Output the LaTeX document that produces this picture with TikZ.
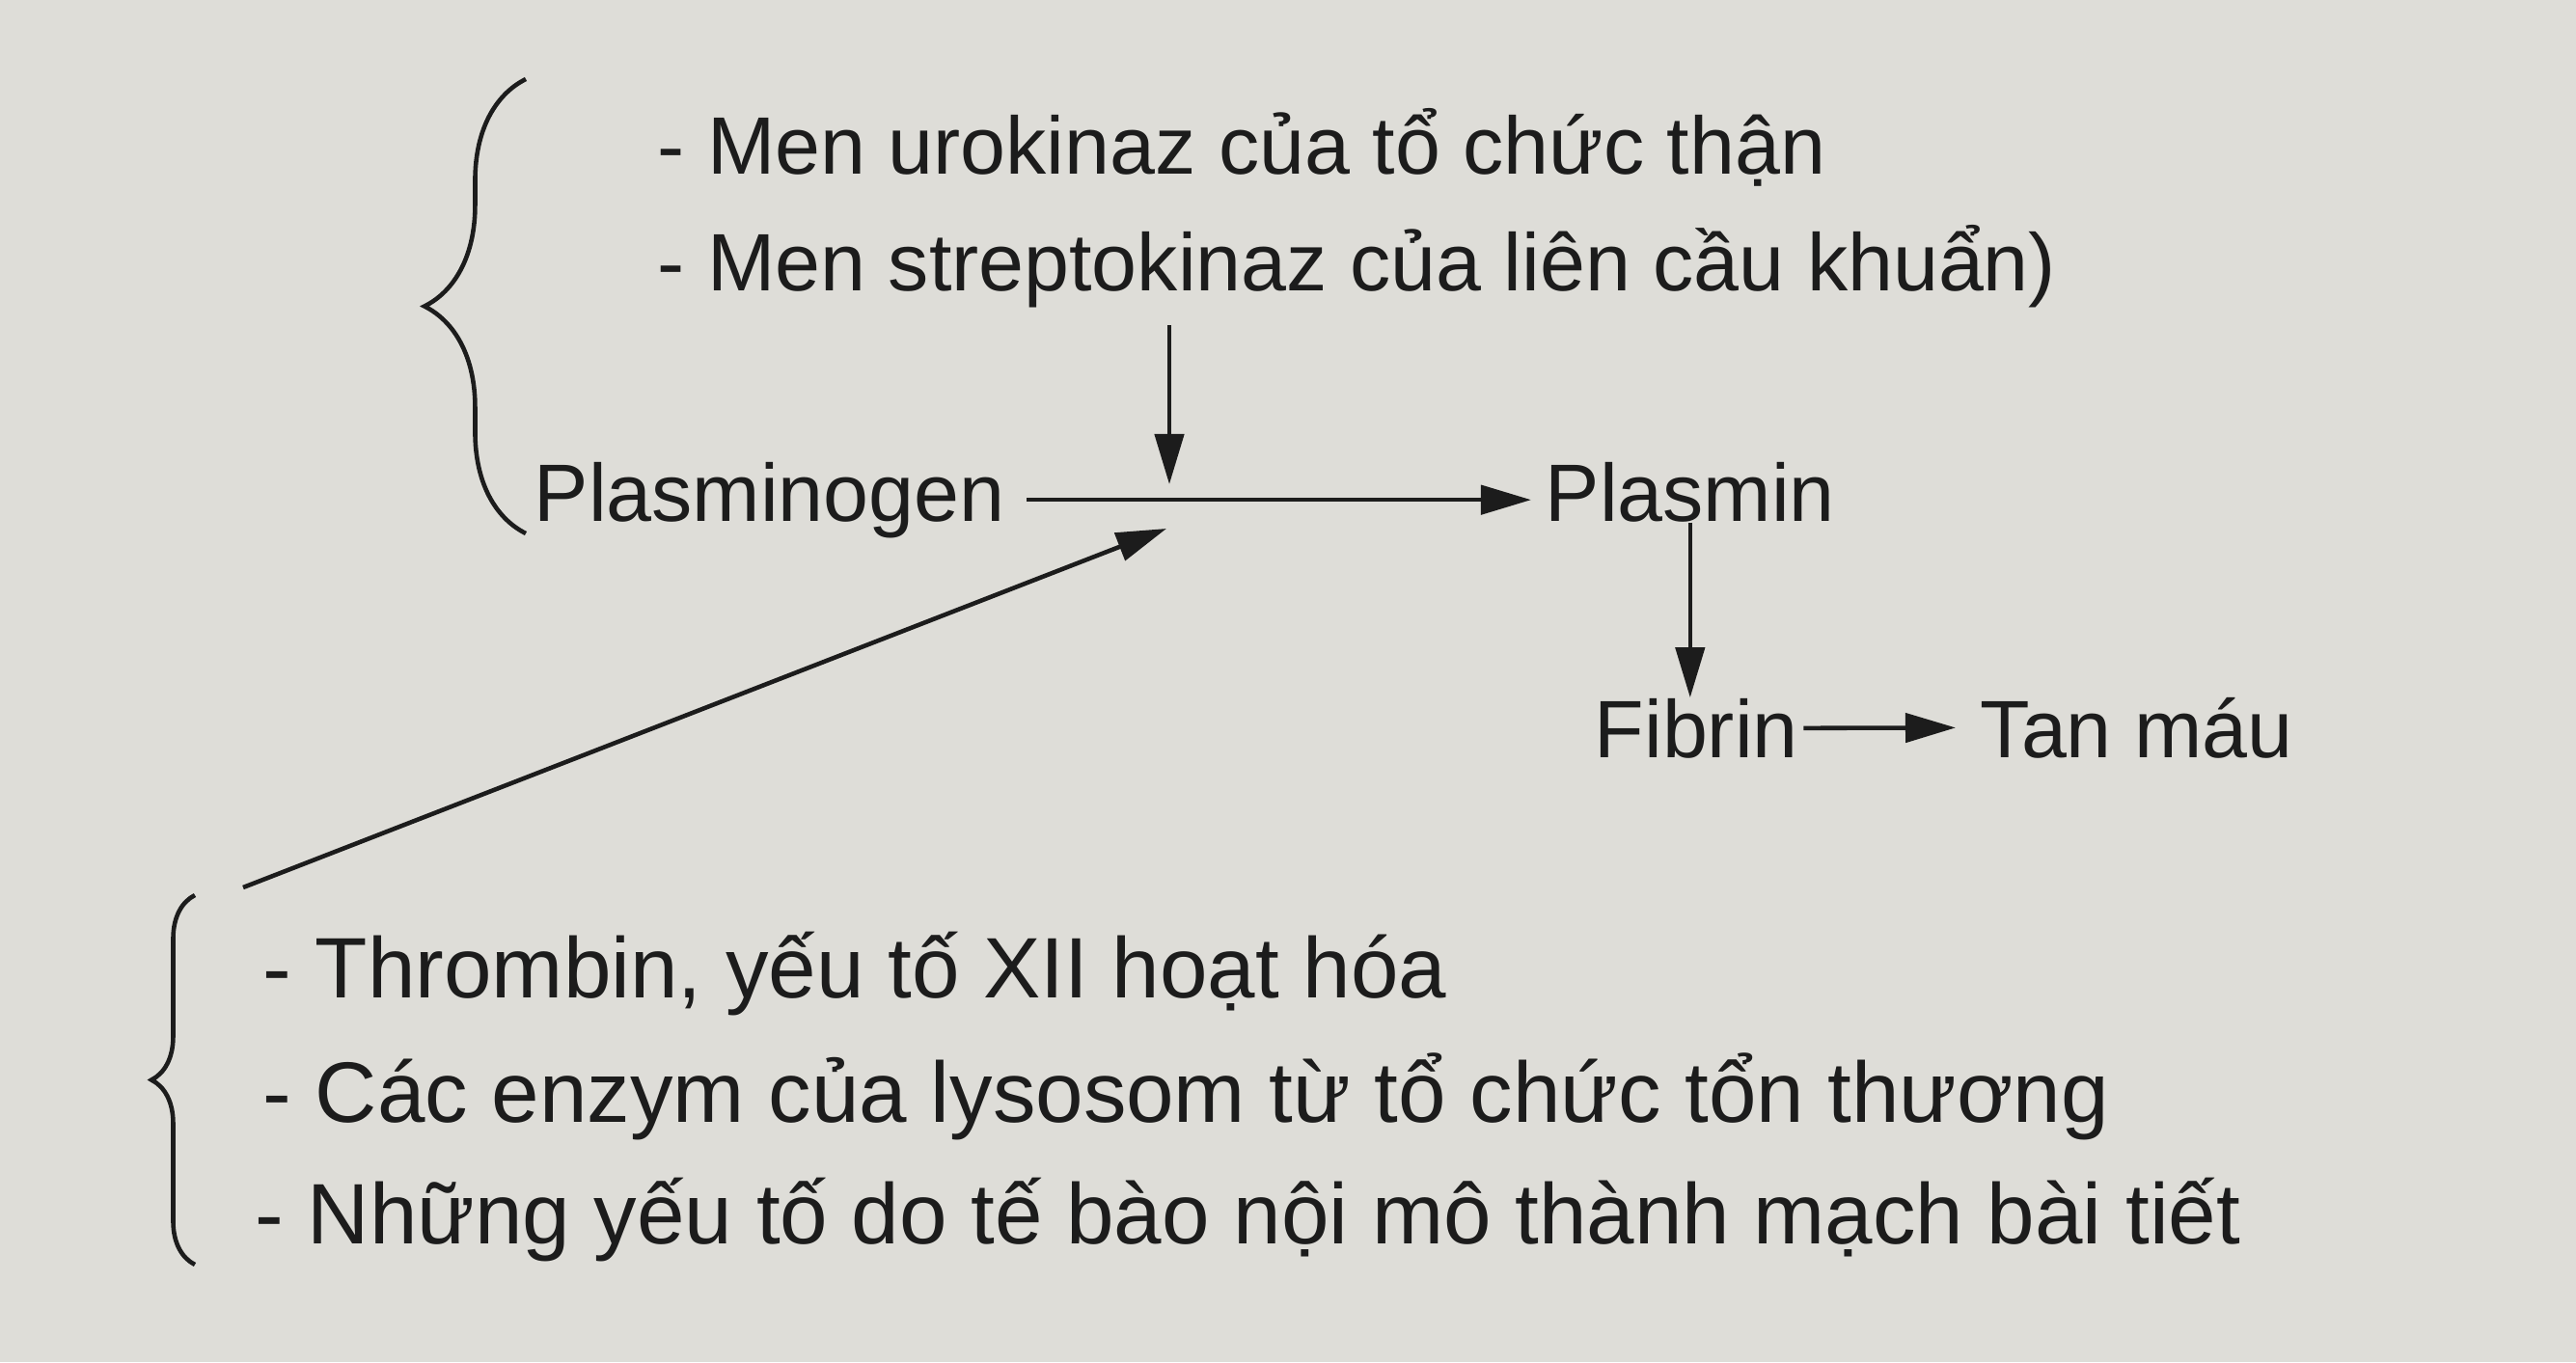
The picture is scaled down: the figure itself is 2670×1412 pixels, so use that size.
\documentclass[tikz,border=0pt]{standalone}
\usepackage{fontspec}
\setmainfont{Liberation Sans}
\usetikzlibrary{arrows.meta,decorations.pathreplacing}
\definecolor{paper}{RGB}{222,221,216}
\definecolor{ink}{RGB}{28,28,28}

\begin{document}
\begin{tikzpicture}[
    x=0.01cm, y=-0.01cm,
    txt/.style={
        anchor=base west,
        inner sep=0pt,
        font=\fontsize{24}{28}\selectfont,
        text=ink
    },
    txtbig/.style={
        txt,
        font=\fontsize{25.3}{30}\selectfont
    },
    arr/.style={
        -{Triangle[length=0.52cm,width=0.3cm]},
        line width=1.3pt,
        draw=ink
    },
    curly/.style={
        decorate,
        decoration={brace, amplitude=#1},
        line width=1.3pt,
        draw=ink
    }
]

\fill[paper] (0,0) rectangle (2670,1412);

\node[txt] (uro) at (681,180) {- Men urokinaz của tổ chức thận};
\node[txt] (strep) at (681,301) {- Men streptokinaz của liên cầu khuẩn)};
\node[txt] (pgen) at (553,540) {Plasminogen};
\node[txt] (plasmin) at (1601,540) {Plasmin};
\node[txt] (fibrin) at (1652,785) {Fibrin};
\node[txt] (tan) at (2052,785) {Tan máu};
\node[txtbig] (thromb) at (272,1034) {- Thrombin, yếu tố XII hoạt hóa};
\node[txtbig] (lyso) at (272,1163) {- Các enzym của lysosom từ tổ chức tổn thương};
\node[txtbig] (endo) at (264,1289) {- Những yếu tố do tế bào nội mô thành mạch bài tiết};

\coordinate (enzA) at (1212,337);
\coordinate (joinA) at (1212,502);
\coordinate (enzB) at (252,920);
\coordinate (joinB) at (1209,548);

\draw[curly=1.05cm] (545,553) -- (545,82);
\draw[curly=0.45cm] (202,1311) -- (202,928);

\draw[arr, shorten <=0.22cm, shorten >=0.14cm] (pgen.east) -- (pgen.east -| plasmin.west);
\draw[arr] (enzA) -- (joinA);
\draw[arr] (enzB) -- (joinB);
\draw[arr] (plasmin.south) -- (plasmin.south |- fibrin.north);
\draw[arr, shorten <=0.05cm, shorten >=0.25cm] (fibrin.east) -- (tan.west);

\end{tikzpicture}
\end{document}
